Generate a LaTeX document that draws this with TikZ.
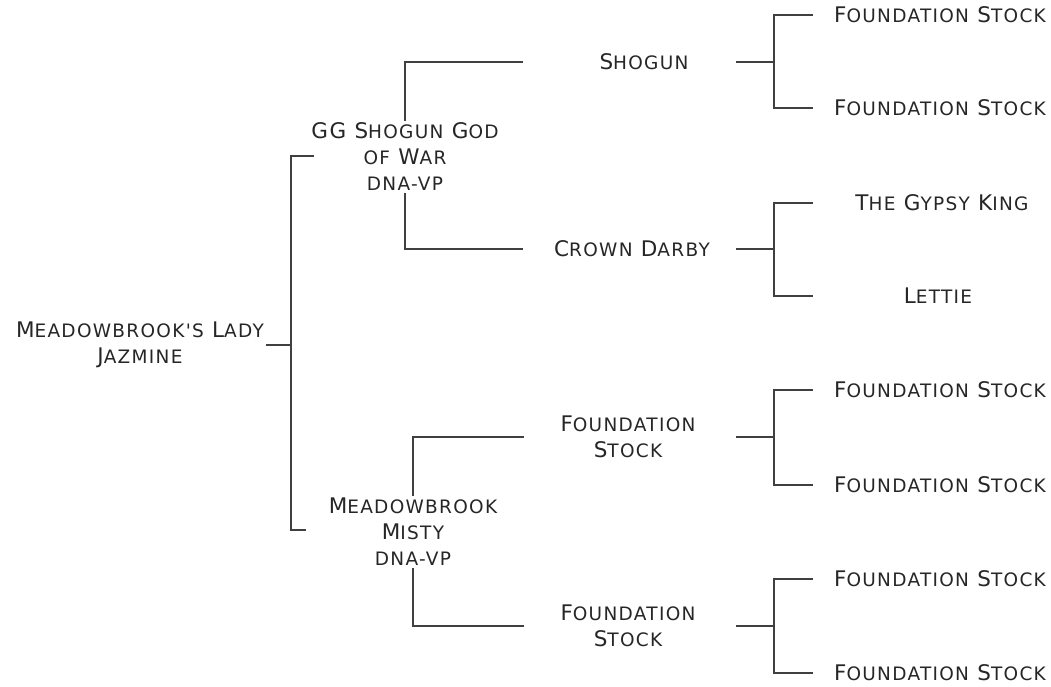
\documentclass[tikz,border=0pt]{standalone}
\usepackage{fontspec}
\newfontfamily\cop[LetterSpace=7]{DejaVu Sans}
\newcommand\smc[1]{{\fontsize{18.5}{26}\selectfont\MakeUppercase{#1}}}
\tikzset{
  horse/.style={font=\cop\fontsize{21.5}{26}\selectfont, align=center, inner sep=2pt, text=black!85},
  link/.style={draw=black!75, line width=1.3pt}
}
\begin{document}
\begin{tikzpicture}[x=1pt, y=-1pt]
  \useasboundingbox (0,0) rectangle (1051,686);
  % generation 0 and 1
  \node[horse] (lady) at (140,345) {M\smc{eadowbrook}\smc{'s} L\smc{ady}\\J\smc{azmine}};
  \node[horse] (sire) at (405,157) {GG S\smc{hogun} G\smc{od}\\\smc{of} W\smc{ar}\\\smc{dna-vp}};
  \node[horse] (dam) at (413,532) {M\smc{eadowbrook}\\M\smc{isty}\\\smc{dna-vp}};
  % generation 2
  \node[horse] (shogun) at (644,62) {S\smc{hogun}};
  \node[horse] (darby) at (632,249) {C\smc{rown} D\smc{arby}};
  \node[horse] (fsA) at (628,437) {F\smc{oundation}\\S\smc{tock}};
  \node[horse] (fsB) at (628,626) {F\smc{oundation}\\S\smc{tock}};
  % generation 3
  \node[horse] (g1) at (940,15) {F\smc{oundation} S\smc{tock}};
  \node[horse] (g2) at (940,108) {F\smc{oundation} S\smc{tock}};
  \node[horse] (g3) at (942,203) {T\smc{he} G\smc{ypsy} K\smc{ing}};
  \node[horse] (g4) at (938,296) {L\smc{ettie}};
  \node[horse] (g5) at (940,390) {F\smc{oundation} S\smc{tock}};
  \node[horse] (g6) at (940,485) {F\smc{oundation} S\smc{tock}};
  \node[horse] (g7) at (940,579) {F\smc{oundation} S\smc{tock}};
  \node[horse] (g8) at (940,673) {F\smc{oundation} S\smc{tock}};
  % brackets
  \path (291,156) coordinate (rT) (291,530) coordinate (rB)
    (314,156) coordinate (sireIn) (306,530) coordinate (damIn);
  \draw[link] (lady.east) -- (lady.east -| rT);
  \draw[link] (sireIn) -- (rT) -- (rB) -- (damIn);
  \draw[link] (sire.north) |- (523,62) coordinate (shogunIn);
  \draw[link] (sire.south) |- (523,249) coordinate (darbyIn);
  \draw[link] (dam.north) |- (524,437) coordinate (fsAIn);
  \draw[link] (dam.south) |- (524,626) coordinate (fsBIn);
  \foreach \p/\y/\a/\b in {shogun/62/g1/g2, darby/249/g3/g4, fsA/437/g5/g6, fsB/626/g7/g8}{
    \path (736,\y) coordinate (\p Out) (774,\y) coordinate (\p J);
    \draw[link] (\p Out) -- (\p J);
    \draw[link] (813,0 |- \a) -| (\p J) |- (813,0 |- \b);
  }
\end{tikzpicture}
\end{document}
